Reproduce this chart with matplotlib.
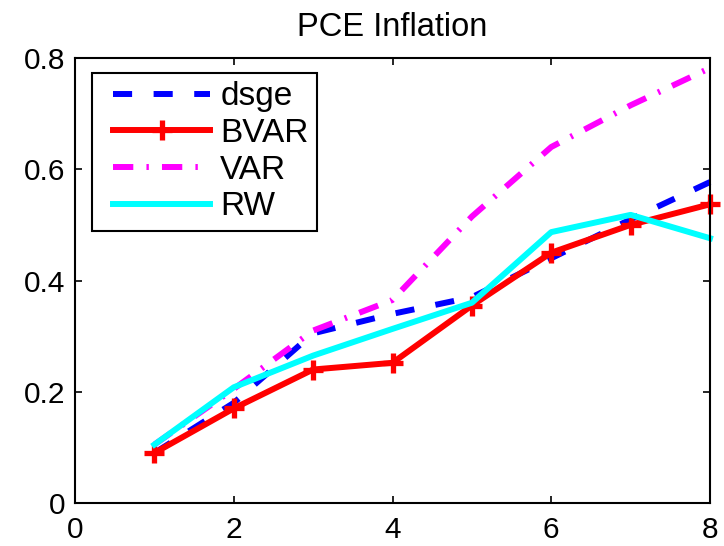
import matplotlib
matplotlib.use("Agg")
import matplotlib.pyplot as plt
from matplotlib.legend_handler import HandlerLine2D
from matplotlib.lines import Line2D

plt.rcParams['font.family'] = ['Liberation Sans', 'DejaVu Sans']

horizons = [1, 2, 3, 4, 5, 6, 7, 8]
dsge = [0.09, 0.18, 0.305, 0.34, 0.37, 0.44, 0.51, 0.577]
bvar = [0.09, 0.17, 0.24, 0.252, 0.355, 0.45, 0.50, 0.537]
var = [0.105, 0.205, 0.31, 0.365, 0.515, 0.64, 0.715, 0.782]
rw = [0.105, 0.208, 0.265, 0.313, 0.36, 0.487, 0.518, 0.476]

xticks = [0, 2, 4, 6, 8]
yticks = [0, 0.2, 0.4, 0.6, 0.8]
yticklabels = ['0', '0.2', '0.4', '0.6', '0.8']

fig = plt.figure(figsize=(7.24, 5.46), dpi=100)
ax = fig.add_axes([75/724, 1-503/546, (710-75)/724, (503-58)/546])

lw = 4.3
ax.plot(horizons, dsge, color=(0, 0, 1), lw=lw, dashes=(3.2, 3.6), label='dsge',
        clip_on=False)
ax.plot(horizons, bvar, color=(1, 0, 0), lw=lw, marker='+', markersize=15,
        markeredgewidth=3.8, label='BVAR', clip_on=False)
ax.plot(horizons, var, color=(1, 0, 1), lw=lw, dashes=(3.4, 2.2, 0.4, 2.2), label='VAR',
        clip_on=False)
ax.plot(horizons, rw, color=(0, 1, 1), lw=lw, label='RW', clip_on=False)

ax.set_xlim(0, 8)
ax.set_ylim(0, 0.8)
ax.set_xticks(xticks)
ax.set_xticklabels([str(t) for t in xticks])
ax.set_yticks(yticks)
ax.set_yticklabels(yticklabels)
ax.tick_params(direction='in', length=5, width=1.2, top=True, right=True,
               labelsize=21.5, colors='black')
ax.tick_params(axis='x', pad=9)
ax.tick_params(axis='y', pad=7)
for s in ax.spines.values():
    s.set_linewidth(1.5)

ax.set_title('PCE Inflation', fontsize=23.5, pad=16)

handler = HandlerLine2D(xpad=0.38)
leg = ax.legend(loc='upper left', bbox_to_anchor=(92/724, 1-73/546),
                bbox_transform=fig.transFigure, borderaxespad=0,
                fontsize=24, handlelength=3.3, handletextpad=0.3,
                labelspacing=0.17, borderpad=0.25, fancybox=False,
                framealpha=1, edgecolor='black',
                handler_map={Line2D: handler})
leg.get_frame().set_linewidth(1.5)

fig.savefig('out.png', dpi=100)
